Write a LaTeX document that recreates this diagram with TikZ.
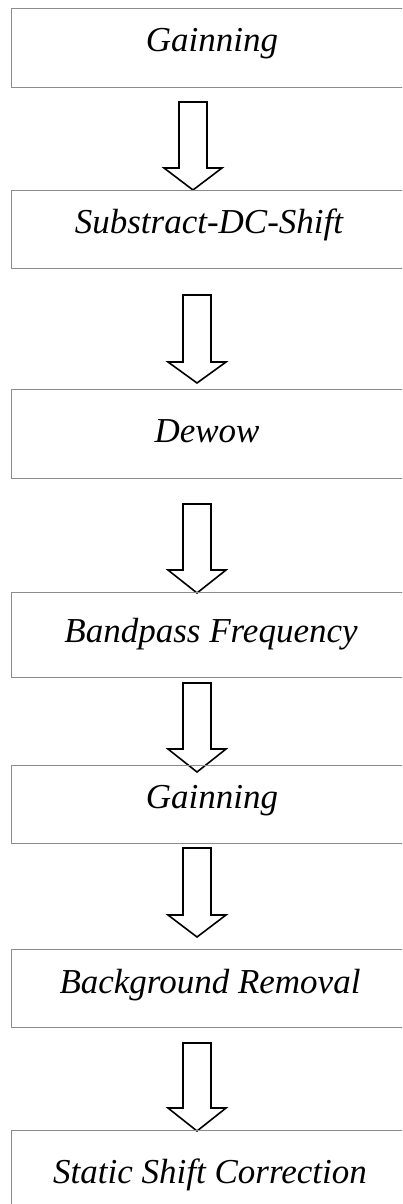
\documentclass[tikz,border=0pt]{standalone}
\usepackage{fontspec}
\setmainfont{Liberation Serif}
\begin{document}
\begin{tikzpicture}[x=1pt,y=-1pt,
  boxstyle/.style={draw=black!45,line width=1.2pt,rectangle,inner sep=0pt,minimum width=398pt,anchor=north west},
  labelstyle/.style={anchor=base,inner sep=0pt,font=\fontsize{35}{41}\selectfont\itshape},
  blockarrowstyle/.style={draw=black,line width=1.6pt,fill=white,line join=miter}]
\useasboundingbox (0,0) rectangle (402,1204);
\clip (0,0) rectangle (402,1204);
\newcommand{\blockarrow}[4]{%
  \draw[blockarrowstyle] (#1-14,#2) -- (#1+14,#2) -- (#1+14,#3) -- (#1+29,#3) -- (#1,#4) -- (#1-29,#3) -- (#1-14,#3) -- cycle;}
% arrows (drawn first, box lines lie over the tips)
\blockarrow{193}{102}{168}{190}
\blockarrow{197}{295}{362}{383}
\blockarrow{197}{504}{570}{593}
\blockarrow{197}{683}{749}{772}
\blockarrow{197}{848}{915}{937}
\blockarrow{197}{1043}{1108}{1131}
% boxes
\node[boxstyle,minimum height=79pt] (b1) at (11,8) {};
\node[boxstyle,minimum height=78pt] (b2) at (11,190) {};
\node[boxstyle,minimum height=89pt] (b3) at (11,389) {};
\node[boxstyle,minimum height=85pt] (b4) at (11,592) {};
\node[boxstyle,minimum height=78pt] (b5) at (11,765) {};
\node[boxstyle,minimum height=78pt] (b6) at (11,949) {};
\node[boxstyle,minimum height=90pt] (b7) at (11,1130) {};
% labels
\node[labelstyle] (t1) at (212,52) {Gainning};
\node[labelstyle] (t2) at (209,233) {Substract-DC-Shift};
\node[labelstyle] (t3) at (207,442) {Dewow};
\node[labelstyle] (t4) at (211,642) {Bandpass Frequency};
\node[labelstyle] (t5) at (212,808) {Gainning};
\node[labelstyle] (t6) at (210,993) {Background Removal};
\node[labelstyle] (t7) at (210,1183) {Static Shift Correction};
\end{tikzpicture}
\end{document}
